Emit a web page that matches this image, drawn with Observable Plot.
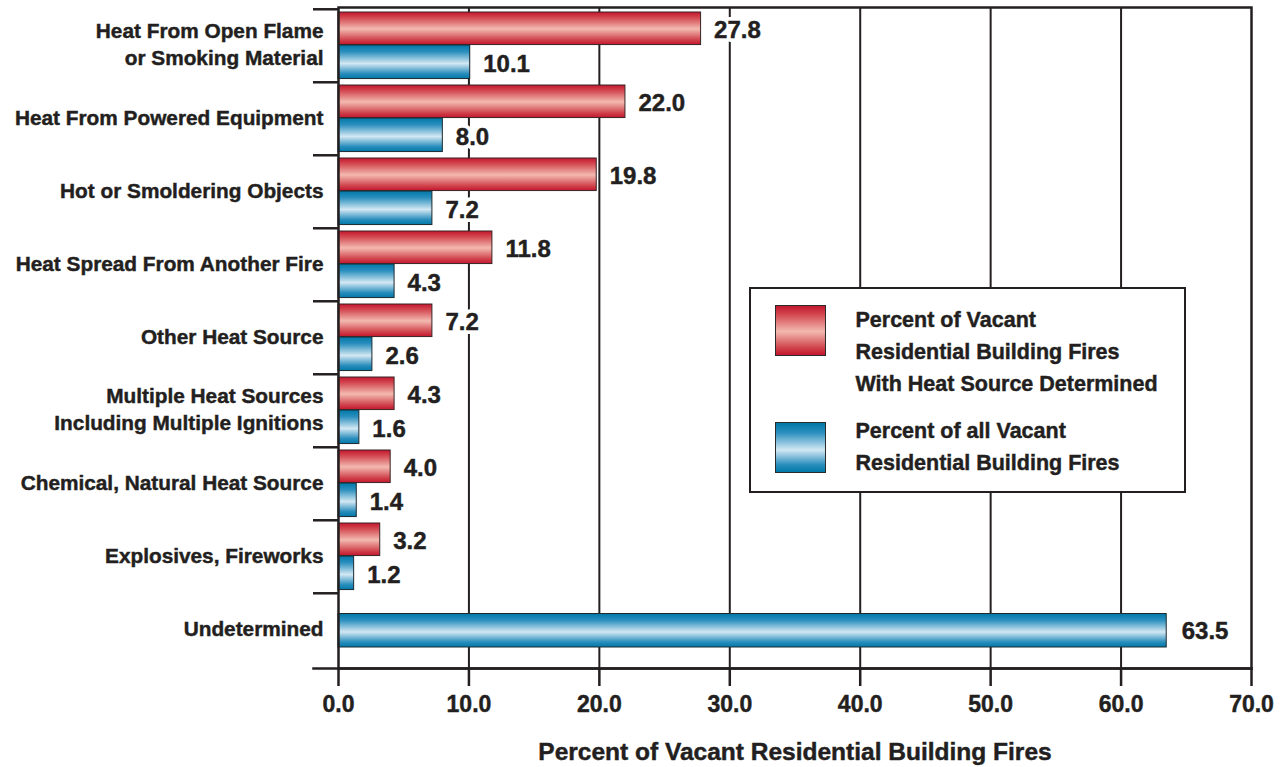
<!DOCTYPE html>
<html>
<head>
<meta charset="utf-8">
<script src="https://cdn.jsdelivr.net/npm/d3@7"></script>
<script src="https://cdn.jsdelivr.net/npm/@observablehq/plot@0.6"></script>
<style>
  body { margin: 0; background: #fff; }
  #chart { position: relative; width: 1285px; height: 767px; }
  #chart svg { display: block; }
  g[aria-label="y-axis tick label"] text,
  g[aria-label="x-axis tick label"] text { stroke: #231f20; stroke-width: 0.45px; }
  .legend {
    position: absolute; left: 749px; top: 287px; width: 437px; height: 206px;
    box-sizing: border-box; border: 2.5px solid #231f20; background: #fff;
    font: bold 21.5px "Liberation Sans", Arial, sans-serif;
    color: #231f20; -webkit-text-stroke: 0.45px #231f20;
  }
  .legend .sw { position: absolute; left: 23.5px; width: 51px; height: 51px; box-sizing: border-box; border: 1px solid #2b2b2b; -webkit-text-stroke: 0; }
  .legend .txt { position: absolute; left: 104.5px; line-height: 32px; white-space: nowrap; }
</style>
</head>
<body>
<div id="chart"></div>
<script>
// Heat source of vacant residential building fires
const categories = [
  "Heat From Open Flame\nor Smoking Material",
  "Heat From Powered Equipment",
  "Hot or Smoldering Objects",
  "Heat Spread From Another Fire",
  "Other Heat Source",
  "Multiple Heat Sources\nIncluding Multiple Ignitions",
  "Chemical, Natural Heat Source",
  "Explosives, Fireworks",
  "Undetermined"
];
// Percent of vacant residential building fires with heat source determined
const determinedPct = [27.8, 22.0, 19.8, 11.8, 7.2, 4.3, 4.0, 3.2, null];
// Percent of all vacant residential building fires
const allPct = [10.1, 8.0, 7.2, 4.3, 2.6, 1.6, 1.4, 1.2, 63.5];
const xTicks = [0, 10, 20, 30, 40, 50, 60, 70];
const seriesNames = [
  "Percent of Vacant\nResidential Building Fires\nWith Heat Source Determined",
  "Percent of all Vacant\nResidential Building Fires"
];
const xLabel = "Percent of Vacant Residential Building Fires";

const ink = "#231f20";
const W = 1285, H = 767, mT = 7, mB = 99, mL = 338, mR = 34;
const bandH = (H - mT - mB) / categories.length;

const rows = categories.map((c, i) => ({category: c, determined: determinedPct[i], all: allPct[i]}));
const red = rows.filter(d => d.determined != null);
const bluePaired = rows.filter(d => d.determined != null);
const blueSolo = rows.filter(d => d.determined == null);

const fmt = d3.format(".1f");
const font = "'Liberation Sans', Arial, sans-serif";

// Banded (horizontal stripe) gradients for the bars
const gradients = () => {
  const ns = "http://www.w3.org/2000/svg";
  const defs = document.createElementNS(ns, "defs");
  const make = (id, stops) => {
    const g = document.createElementNS(ns, "linearGradient");
    g.setAttribute("id", id);
    g.setAttribute("x1", "0"); g.setAttribute("y1", "0");
    g.setAttribute("x2", "0"); g.setAttribute("y2", "1");
    for (const [o, c] of stops) {
      const s = document.createElementNS(ns, "stop");
      s.setAttribute("offset", o);
      s.setAttribute("stop-color", c);
      g.appendChild(s);
    }
    defs.appendChild(g);
  };
  make("redBand", [[0, "#c4162e"], [0.18, "#d34a52"], [0.52, "#f3b9b0"], [0.85, "#d0444d"], [1, "#c4162e"]]);
  make("blueBand", [[0, "#0078a8"], [0.2, "#2b8fbe"], [0.55, "#d2e8f3"], [0.85, "#2a8ebd"], [1, "#0078a8"]]);
  return defs;
};

// Value label with a white halo that masks the grid lines behind it
const valueLabel = (data, field, opts) => [
  Plot.text(data, {x: field, y: "category", text: d => fmt(d[field]), textAnchor: "start", fontFamily: font, fontWeight: "bold", fontSize: 24, fill: "white", stroke: "white", strokeWidth: 8, ...opts}),
  Plot.text(data, {x: field, y: "category", text: d => fmt(d[field]), textAnchor: "start", fontFamily: font, fontWeight: "bold", fontSize: 24, fill: ink, stroke: ink, strokeWidth: 0.45, ...opts})
];

const chart = Plot.plot({
  width: W,
  height: H,
  marginTop: mT,
  marginBottom: mB,
  marginLeft: mL,
  marginRight: mR,
  style: {fontFamily: font, color: ink, background: "#fff"},
  x: {domain: [0, 70], axis: null},
  y: {domain: categories, axis: null, padding: 0},
  marks: [
    gradients,
    Plot.ruleX(xTicks.slice(1, -1), {stroke: ink, strokeWidth: 2}),
    Plot.barX(red, {x: "determined", y: "category", fill: "url(#redBand)", stroke: "#3a2426", strokeWidth: 1, insetTop: 3, insetBottom: bandH - 36}),
    Plot.barX(bluePaired, {x: "all", y: "category", fill: "url(#blueBand)", stroke: "#1e2a30", strokeWidth: 1, insetTop: 36, insetBottom: bandH - 70}),
    Plot.barX(blueSolo, {x: "all", y: "category", fill: "url(#blueBand)", stroke: "#1e2a30", strokeWidth: 1, insetTop: 20.5, insetBottom: 19}),
    valueLabel(red, "determined", {dx: 13, dy: 21 - bandH / 2}),
    valueLabel(bluePaired, "all", {dx: 13, dy: 55 - bandH / 2}),
    valueLabel(blueSolo, "all", {dx: 15, dy: 1}),
    Plot.frame({stroke: ink, strokeWidth: 2.5}),
    Plot.frame({anchor: "bottom", insetLeft: -25, stroke: ink, strokeWidth: 2.5}),
    Plot.ruleY(categories, {y: d => d, x1: 0, x2: 0, insetLeft: -25, dy: -bandH / 2, stroke: ink, strokeWidth: 2.5}),
    Plot.axisX({ticks: xTicks, tickSize: 18, tickPadding: 9, tickFormat: fmt, strokeWidth: 2.5, color: ink, fontFamily: font, fontWeight: "bold", fontSize: 23, label: null}),
    Plot.axisY({tickSize: 0, tickPadding: 15, dy: -3, fontFamily: font, fontWeight: "bold", fontSize: 20.8, lineHeight: 1.3, color: ink, label: null}),
    Plot.text([xLabel], {frameAnchor: "bottom", lineAnchor: "middle", dy: 84, fontFamily: font, fontWeight: "bold", fontSize: 24.5, fill: ink, stroke: ink, strokeWidth: 0.45})
  ]
});

const root = document.getElementById("chart");
root.appendChild(chart);

// Legend box overlaid at the right of the plot area
const legend = document.createElement("div");
legend.className = "legend";
const swatches = [
  {grad: "linear-gradient(#c4162e 0%, #d34a52 18%, #f3b9b0 52%, #d0444d 85%, #c4162e 100%)", top: 15.5, textTop: 15},
  {grad: "linear-gradient(#0078a8 0%, #2b8fbe 20%, #d2e8f3 55%, #2a8ebd 85%, #0078a8 100%)", top: 132.5, textTop: 126}
];
swatches.forEach((s, i) => {
  const sw = document.createElement("div");
  sw.className = "sw";
  sw.style.top = s.top + "px";
  sw.style.background = s.grad;
  legend.appendChild(sw);
  const t = document.createElement("div");
  t.className = "txt";
  t.style.top = s.textTop + "px";
  t.innerHTML = seriesNames[i].split("\n").join("<br>");
  legend.appendChild(t);
});
root.appendChild(legend);
</script>
</body>
</html>
